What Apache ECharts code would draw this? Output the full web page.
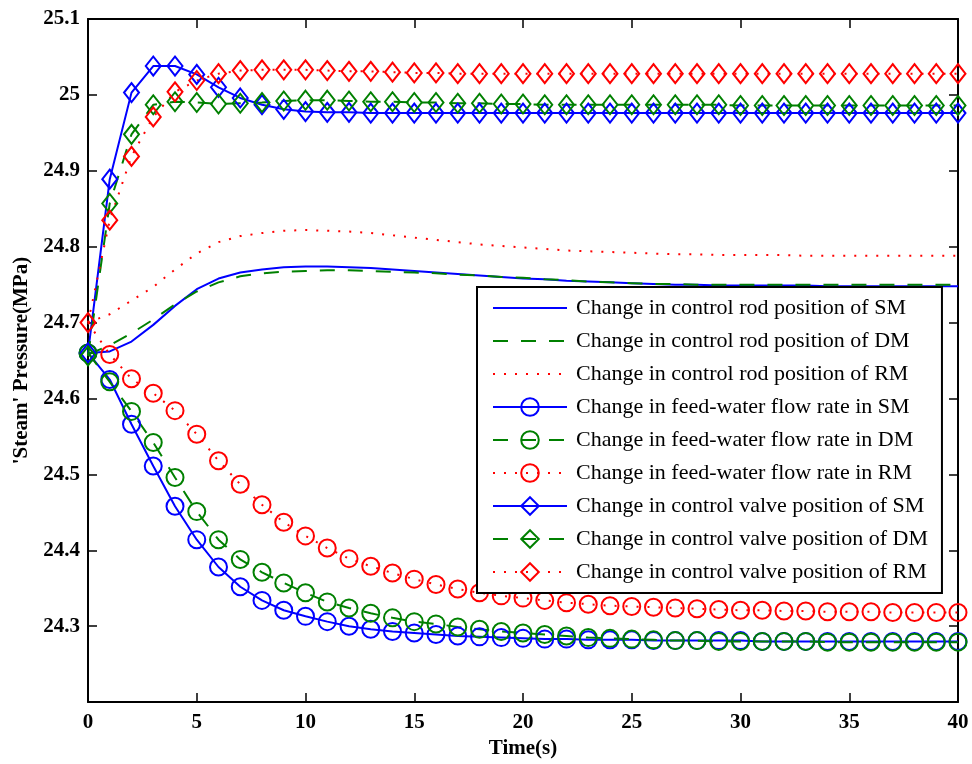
<!DOCTYPE html>
<html>
<head>
<meta charset="utf-8">
<script src="https://cdn.jsdelivr.net/npm/echarts@6/dist/echarts.min.js"></script>
<style>
  html, body { margin: 0; padding: 0; background: #ffffff; }
  #chart { width: 972px; height: 764px; }
</style>
</head>
<body>
<div id="chart"></div>
<script>
// Sample times (s)
const time = [0, 1, 2, 3, 4, 5, 6, 7, 8, 9, 10, 11, 12, 13, 14, 15, 16, 17, 18, 19, 20,
              21, 22, 23, 24, 25, 26, 27, 28, 29, 30, 31, 32, 33, 34, 35, 36, 37, 38, 39, 40];

// Steam pressure (MPa) after a change in control rod position
const rodSM = [24.660, 24.662, 24.675, 24.697, 24.722, 24.744, 24.758, 24.766, 24.770, 24.773, 24.774,
               24.774, 24.773, 24.772, 24.770, 24.768, 24.766, 24.764, 24.762, 24.760, 24.758,
               24.757, 24.755, 24.754, 24.753, 24.752, 24.751, 24.750, 24.750, 24.749, 24.749,
               24.749, 24.749, 24.749, 24.748, 24.748, 24.748, 24.748, 24.748, 24.748, 24.748];
const rodDM = [24.658, 24.670, 24.686, 24.704, 24.724, 24.741, 24.753, 24.761, 24.765, 24.767, 24.768,
               24.769, 24.769, 24.768, 24.767, 24.766, 24.765, 24.763, 24.762, 24.760, 24.759,
               24.757, 24.756, 24.754, 24.753, 24.752, 24.751, 24.751, 24.750, 24.750, 24.750,
               24.750, 24.750, 24.750, 24.750, 24.750, 24.750, 24.750, 24.750, 24.750, 24.750];
const rodRM = [24.700, 24.711, 24.729, 24.747, 24.770, 24.791, 24.806, 24.814, 24.818, 24.821, 24.822,
               24.821, 24.820, 24.818, 24.815, 24.812, 24.809, 24.806, 24.803, 24.801, 24.799,
               24.797, 24.795, 24.794, 24.793, 24.792, 24.791, 24.790, 24.790, 24.789, 24.789,
               24.789, 24.789, 24.788, 24.788, 24.788, 24.788, 24.788, 24.788, 24.788, 24.788];

// Steam pressure (MPa) after a change in feed-water flow rate
const fwSM = [24.660, 24.625, 24.566, 24.511, 24.458, 24.414, 24.378, 24.352, 24.334, 24.321, 24.313,
              24.306, 24.300, 24.296, 24.293, 24.291, 24.289, 24.287, 24.286, 24.285, 24.284,
              24.283, 24.283, 24.282, 24.282, 24.282, 24.281, 24.281, 24.281, 24.281, 24.281,
              24.280, 24.280, 24.280, 24.280, 24.280, 24.280, 24.280, 24.280, 24.280, 24.280];
const fwDM = [24.660, 24.622, 24.583, 24.542, 24.496, 24.451, 24.414, 24.388, 24.371, 24.357, 24.344,
              24.332, 24.324, 24.317, 24.311, 24.306, 24.303, 24.299, 24.296, 24.293, 24.291,
              24.289, 24.287, 24.285, 24.284, 24.283, 24.282, 24.281, 24.281, 24.280, 24.280,
              24.280, 24.280, 24.280, 24.279, 24.279, 24.279, 24.279, 24.279, 24.279, 24.279];
const fwRM = [24.700, 24.658, 24.626, 24.607, 24.584, 24.553, 24.518, 24.487, 24.460, 24.437, 24.419,
              24.403, 24.389, 24.379, 24.370, 24.362, 24.355, 24.349, 24.344, 24.340, 24.337,
              24.334, 24.331, 24.329, 24.327, 24.326, 24.325, 24.324, 24.323, 24.322, 24.321,
              24.321, 24.320, 24.320, 24.319, 24.319, 24.319, 24.318, 24.318, 24.318, 24.318];

// Steam pressure (MPa) after a change in control valve position
const valveSM = [24.660, 24.889, 25.003, 25.038, 25.038, 25.027, 25.010, 24.996, 24.987, 24.981, 24.978,
                 24.977, 24.977, 24.976, 24.976, 24.976, 24.976, 24.976, 24.976, 24.976, 24.976,
                 24.976, 24.976, 24.976, 24.976, 24.976, 24.976, 24.976, 24.976, 24.976, 24.976,
                 24.976, 24.976, 24.976, 24.976, 24.976, 24.976, 24.976, 24.976, 24.976, 24.976];
const valveDM = [24.656, 24.857, 24.948, 24.987, 24.991, 24.990, 24.988, 24.989, 24.990, 24.992, 24.993,
                 24.993, 24.992, 24.991, 24.991, 24.990, 24.990, 24.989, 24.989, 24.988, 24.988,
                 24.987, 24.987, 24.987, 24.987, 24.987, 24.987, 24.987, 24.987, 24.987, 24.986,
                 24.986, 24.986, 24.986, 24.986, 24.986, 24.986, 24.986, 24.986, 24.986, 24.986];
const valveRM = [24.700, 24.835, 24.919, 24.971, 25.004, 25.019, 25.028, 25.032, 25.033, 25.033, 25.033,
                 25.032, 25.031, 25.031, 25.030, 25.029, 25.029, 25.028, 25.028, 25.028, 25.028,
                 25.028, 25.028, 25.028, 25.028, 25.028, 25.028, 25.028, 25.028, 25.028, 25.028,
                 25.028, 25.028, 25.028, 25.028, 25.028, 25.028, 25.028, 25.028, 25.028, 25.028];

const seriesNames = [
  'Change in control rod position of SM',
  'Change in control rod position of DM',
  'Change in control rod position of RM',
  'Change in feed-water flow rate in SM',
  'Change in feed-water flow rate in DM',
  'Change in feed-water flow rate in RM',
  'Change in control valve position of SM',
  'Change in control valve position of DM',
  'Change in control valve position of RM'
];

// y-axis range and step (MPa); x-axis range and step (s)
const yMin = 24.2, yMax = 25.1, yStep = 0.1;
const xMin = 0, xMax = 40, xStep = 5;

const BLUE = '#0000ff', GREEN = '#008000', RED = '#ff0000';
const CLEAR = 'rgba(0,0,0,0)';
const SERIF = "'Liberation Serif', 'Times New Roman', serif";
const SOLID = 'solid', DASHED = [15, 13], DOTTED = [2, 9];

function pairs(values, hideFirstMarker) {
  return time.map((t, i) => {
    if (hideFirstMarker && i === 0) return { value: [t, values[i]], symbol: 'none' };
    return [t, values[i]];
  });
}

function makeSeries(name, values, color, dash, symbol, size, hideFirstMarker) {
  const plain = symbol === 'none';
  return {
    name: name,
    type: 'line',
    data: pairs(values, hideFirstMarker),
    // plain curves keep a circle type only so the legend icon is a bare line
    symbol: plain ? 'circle' : symbol,
    symbolSize: plain ? 0 : size,
    showSymbol: !plain,
    showAllSymbol: true,
    lineStyle: { color: color, width: 2, type: dash, cap: 'butt' },
    itemStyle: { color: CLEAR, borderColor: plain ? CLEAR : color, borderWidth: 2 },
    emphasis: { disabled: true },
    silent: true,
    clip: true
  };
}

const CIRCLE = 17, DIAMOND = [15, 19];

const series = [
  makeSeries(seriesNames[0], rodSM, BLUE, SOLID, 'none', 0),
  makeSeries(seriesNames[1], rodDM, GREEN, DASHED, 'none', 0),
  makeSeries(seriesNames[2], rodRM, RED, DOTTED, 'none', 0),
  makeSeries(seriesNames[3], fwSM, BLUE, SOLID, 'circle', CIRCLE),
  makeSeries(seriesNames[4], fwDM, GREEN, DASHED, 'circle', CIRCLE),
  makeSeries(seriesNames[5], fwRM, RED, DOTTED, 'circle', CIRCLE, true),
  makeSeries(seriesNames[6], valveSM, BLUE, SOLID, 'diamond', DIAMOND),
  makeSeries(seriesNames[7], valveDM, GREEN, DASHED, 'diamond', DIAMOND),
  makeSeries(seriesNames[8], valveRM, RED, DOTTED, 'diamond', DIAMOND)
];

const axisLine = { show: true, onZero: false, lineStyle: { color: '#000', width: 2 } };
const axisTick = { show: true, inside: true, length: 9, lineStyle: { color: '#000', width: 1.5 } };
const tickFont = { fontFamily: SERIF, fontSize: 21, fontWeight: 'bold', color: '#000' };

const chart = echarts.init(document.getElementById('chart'), null, { renderer: 'canvas' });
chart.setOption({
  animation: false,
  backgroundColor: '#ffffff',
  grid: { left: 88, right: 14, top: 19, bottom: 59, containLabel: false },
  xAxis: [
    {
      type: 'value', min: xMin, max: xMax, interval: xStep, position: 'bottom',
      axisLine: axisLine, axisTick: axisTick, splitLine: { show: false },
      axisLabel: Object.assign({ margin: 10 }, tickFont),
      name: 'Time(s)', nameLocation: 'middle', nameGap: 34,
      nameTextStyle: { fontFamily: SERIF, fontSize: 21, fontWeight: 'bold', color: '#000' }
    },
    {
      type: 'value', min: xMin, max: xMax, interval: xStep, position: 'top',
      axisLine: axisLine, axisTick: axisTick, splitLine: { show: false },
      axisLabel: { show: false }
    }
  ],
  yAxis: [
    {
      type: 'value', min: yMin, max: yMax, interval: yStep, position: 'left',
      axisLine: axisLine, axisTick: axisTick, splitLine: { show: false },
      axisLabel: Object.assign({
        margin: 8,
        formatter: v => (v < yMin + yStep / 2 ? '' : String(Number(v.toFixed(1))))
      }, tickFont),
      name: "'Steam' Pressure(MPa)", nameLocation: 'middle', nameGap: 55,
      nameTextStyle: { fontFamily: SERIF, fontSize: 21, fontWeight: 'bold', color: '#000' }
    },
    {
      type: 'value', min: yMin, max: yMax, interval: yStep, position: 'right',
      axisLine: axisLine, axisTick: axisTick, splitLine: { show: false },
      axisLabel: { show: false }
    }
  ],
  legend: {
    orient: 'vertical',
    left: 477, top: 287,
    padding: [10, 14, 10, 15],
    itemWidth: 74, itemHeight: 22, itemGap: 11,
    backgroundColor: '#ffffff', borderColor: '#000', borderWidth: 2,
    selectedMode: false,
    textStyle: { fontFamily: SERIF, fontSize: 22, color: '#000', lineHeight: 22, padding: [0, 0, 0, 4] },
    data: seriesNames
  },
  series: series
});
</script>
</body>
</html>
